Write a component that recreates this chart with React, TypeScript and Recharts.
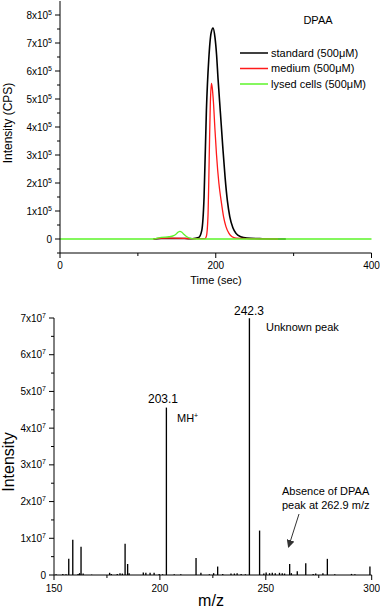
import React from 'react';
import { LineChart, Line, XAxis, YAxis, BarChart, Bar, Customized } from 'recharts';

const FONT = '"Liberation Sans", Arial, Helvetica, sans-serif';

// ---------- Top chart: chromatogram (Intensity in units of 1e5 CPS) ----------
const standardTime = [120, 130, 140, 150, 160, 170, 178, 182, 185, 188, 191, 194, 196.5, 199, 201, 203, 206, 209, 212, 215, 218, 222, 226, 232, 240, 260, 290];
const standardIntensity = [0, 0.02, 0.02, 0.02, 0.02, 0.01, 0.05, 0.3, 1.5, 4.6, 6.4, 7.35, 7.53, 7.2, 6.6, 5.7, 4.5, 3.3, 2.2, 1.35, 0.8, 0.4, 0.2, 0.08, 0.03, 0.01, 0];

const mediumTime = [120, 125, 140, 160, 170, 186, 188, 190, 191, 192, 193, 194.5, 195.5, 197, 199, 201, 204, 207, 210, 213, 217, 221, 226, 240, 280];
const mediumIntensity = [0, 0.02, 0.03, 0.02, 0.01, 0.01, 0.1, 0.8, 2.0, 3.5, 4.8, 5.56, 5.4, 4.9, 3.9, 3.0, 2.0, 1.35, 0.8, 0.45, 0.2, 0.08, 0.03, 0.01, 0];

const lysedTime = [0, 120, 124, 130, 140, 146, 150, 152, 154, 156, 158, 163, 168, 173, 200, 240, 290, 400];
const lysedIntensity = [0, 0, 0.02, 0.06, 0.08, 0.12, 0.2, 0.25, 0.27, 0.25, 0.2, 0.08, 0.02, 0, 0, 0, 0, 0];

const topYTicks = [-0.5, 0, 0.5, 1, 1.5, 2, 2.5, 3, 3.5, 4, 4.5, 5, 5.5, 6, 6.5, 7, 7.5, 8];
const topXTicks = [0, 100, 200, 300, 400];
const topXLabels = [0, 200, 400];

const SERIES = [
  { key: 'standard', name: 'standard (500\u03bcM)', color: '#000000', width: 1.6, time: standardTime, values: standardIntensity },
  { key: 'medium', name: 'medium (500\u03bcM)', color: '#ff1a1a', width: 1.3, time: mediumTime, values: mediumIntensity },
  { key: 'lysed', name: 'lysed cells (500\u03bcM)', color: '#5cf52a', width: 1.3, time: lysedTime, values: lysedIntensity },
];

// ---------- Bottom chart: mass spectrum (Intensity in units of 1e7) ----------
const mzValues = [151, 154.2, 155.7, 157.0, 158.9, 161.4, 162.1, 162.8, 163.8, 167.8, 176.3, 177.1, 179.9, 181.2, 182.3, 183.6, 184.8, 185.5, 192.2, 193.4, 195.4, 197.3, 199.7, 201.3, 203.1, 206.8, 209.9, 217.1, 219.4, 223.4, 225.4, 227.3, 229.7, 233.6, 235.2, 236.5, 238.4, 240.4, 242.3, 247.1, 249.1, 250.2, 251.8, 253.1, 254.5, 256.5, 257.8, 258.9, 261.3, 262.1, 264.9, 268.9, 272.4, 273.6, 277.0, 279.1, 282.6, 290.5, 292.1, 299.2];
const mzIntensity = [0.02, 0.03, 0.02, 0.44, 0.96, 0.03, 0.05, 0.77, 0.04, 0.01, 0.06, 0.03, 0.03, 0.05, 0.04, 0.85, 0.3, 0.05, 0.07, 0.06, 0.06, 0.06, 0.03, 0.02, 4.56, 0.02, 0.02, 0.46, 0.06, 0.02, 0.05, 0.23, 0.03, 0.04, 0.04, 0.05, 0.03, 0.02, 6.99, 1.21, 0.04, 0.07, 0.05, 0.06, 0.05, 0.06, 0.05, 0.04, 0.3, 0.05, 0.1, 0.32, 0.03, 0.04, 0.05, 0.44, 0.02, 0.03, 0.02, 0.23];

const bottomYTicks = [0, 0.5, 1, 1.5, 2, 2.5, 3, 3.5, 4, 4.5, 5, 5.5, 6, 6.5, 7];
const bottomXTicks = [150, 175, 200, 225, 250, 275, 300];
const bottomXLabels = [150, 200, 250, 300];

const seriesRows = SERIES.map((s) => ({
  ...s,
  rows: s.time.map((t, i) => ({ t, v: s.values[i] * 1e5 })),
}));
const spectrumRows = mzValues.map((mz, i) => ({ mz, v: mzIntensity[i] * 1e7 }));

const makeYTick = (exp: number) => (props: any) => {
  const { x, y, payload } = props;
  const n = payload.value / Math.pow(10, exp);
  const isMajor = Math.abs(n - Math.round(n)) < 1e-6 && n >= 0;
  return (
    <g>
      <line x1={x - (isMajor ? 5 : 3)} x2={x} y1={y} y2={y} stroke="#000" strokeWidth={1} />
      {isMajor && (
        <text x={x - 8} y={y} dy="0.35em" textAnchor="end" fontSize={10} fontFamily={FONT} fill="#000">
          {Math.round(n) === 0 ? (
            '0'
          ) : (
            <>
              {Math.round(n)}x10
              <tspan dy={-4} fontSize={7}>
                {exp}
              </tspan>
            </>
          )}
        </text>
      )}
    </g>
  );
};

const makeXTick = (labels: number[], labelOffset: number) => (props: any) => {
  const { x, y, payload } = props;
  const isMajor = labels.includes(payload.value);
  return (
    <g>
      <line x1={x} x2={x} y1={y} y2={y + (isMajor ? 5 : 3)} stroke="#000" strokeWidth={1} />
      {isMajor && (
        <text x={x} y={y + labelOffset} dy="0.35em" textAnchor="middle" fontSize={10} fontFamily={FONT} fill="#000">
          {payload.value}
        </text>
      )}
    </g>
  );
};

const TopAnnotations = () => (
  <g fontFamily={FONT} fill="#000">
    <text x={8} y={123} transform="rotate(-90 8 123)" textAnchor="middle" dy="0.35em" fontSize={12}>
      Intensity (CPS)
    </text>
    <text x={216} y={280} textAnchor="middle" dy="0.35em" fontSize={11}>
      Time (sec)
    </text>
    <text x={318} y={20} textAnchor="middle" dy="0.35em" fontSize={11}>
      DPAA
    </text>
    {SERIES.map((s, i) => (
      <g key={s.key}>
        <line x1={240} x2={268} y1={53 + i * 15.5} y2={53 + i * 15.5} stroke={s.color} strokeWidth={1.5} />
        <text x={271} y={53 + i * 15.5} dy="0.35em" fontSize={11}>
          {s.name}
        </text>
      </g>
    ))}
  </g>
);

const BottomAnnotations = () => (
  <g fontFamily={FONT} fill="#000">
    <text x={8} y={172} transform="rotate(-90 8 172)" textAnchor="middle" dy="0.35em" fontSize={16}>
      Intensity
    </text>
    <text x={211} y={310} textAnchor="middle" dy="0.35em" fontSize={16}>
      m/z
    </text>
    <text x={163} y={109} textAnchor="middle" dy="0.35em" fontSize={12}>
      203.1
    </text>
    <text x={177} y={128} dy="0.35em" fontSize={11}>
      MH
      <tspan dy={-4} fontSize={7}>
        +
      </tspan>
    </text>
    <text x={249} y={21} textAnchor="middle" dy="0.35em" fontSize={12}>
      242.3
    </text>
    <text x={266} y={37} dy="0.35em" fontSize={11}>
      Unknown peak
    </text>
    <text x={282} y={201} dy="0.35em" fontSize={11}>
      Absence of DPAA
    </text>
    <text x={282} y={215} dy="0.35em" fontSize={11}>
      peak at 262.9 m/z
    </text>
    <defs>
      <marker id="arrowHead" markerWidth="8" markerHeight="8" refX="7" refY="4" orient="auto" markerUnits="userSpaceOnUse">
        <path d="M0,0 L8,4 L0,8 z" fill="#333" />
      </marker>
    </defs>
    <line x1={299} y1={224} x2={288.5} y2={257} stroke="#333" strokeWidth={1} markerEnd="url(#arrowHead)" />
  </g>
);

export default function App() {
  return (
    <div style={{ position: 'absolute', left: 0, top: 0, width: 380, height: 614, background: '#fff' }}>
      <div style={{ position: 'absolute', left: 0, top: 0 }}>
        <LineChart width={380} height={290} margin={{ top: 1, right: 8.5, left: 0, bottom: 0 }}>
          <XAxis
            type="number"
            dataKey="t"
            domain={[0, 400]}
            ticks={topXTicks}
            height={37}
            tickSize={0}
            tickMargin={0}
            tickLine={false}
            axisLine={{ stroke: '#000' }}
            tick={makeXTick(topXLabels, 12)}
            interval={0}
            allowDuplicatedCategory={false}
          />
          <YAxis
            type="number"
            domain={[-50000, 850000]}
            ticks={topYTicks.map((v) => v * 1e5)}
            width={60}
            tickSize={0}
            tickMargin={0}
            tickLine={false}
            axisLine={{ stroke: '#000' }}
            tick={makeYTick(5)}
            interval={0}
          />
          {seriesRows.map((s) => (
            <Line
              key={s.key}
              data={s.rows}
              dataKey="v"
              type="monotone"
              stroke={s.color}
              strokeWidth={s.width}
              dot={false}
              isAnimationActive={false}
            />
          ))}
          <Customized component={TopAnnotations} />
        </LineChart>
      </div>
      <div style={{ position: 'absolute', left: 0, top: 290 }}>
        <BarChart width={380} height={324} data={spectrumRows} margin={{ top: 28, right: 8.3, left: 0, bottom: 0 }}>
          <XAxis
            type="number"
            dataKey="mz"
            domain={[150, 300]}
            ticks={bottomXTicks}
            height={39}
            tickSize={0}
            tickMargin={0}
            tickLine={false}
            axisLine={{ stroke: '#000' }}
            tick={makeXTick(bottomXLabels, 13)}
            interval={0}
          />
          <YAxis
            type="number"
            domain={[0, 70000000]}
            ticks={bottomYTicks.map((v) => v * 1e7)}
            width={54}
            tickSize={0}
            tickMargin={0}
            tickLine={false}
            axisLine={{ stroke: '#000' }}
            tick={makeYTick(7)}
            interval={0}
          />
          <Bar dataKey="v" fill="#000" barSize={2} isAnimationActive={false} />
          <Customized component={BottomAnnotations} />
        </BarChart>
      </div>
    </div>
  );
}
